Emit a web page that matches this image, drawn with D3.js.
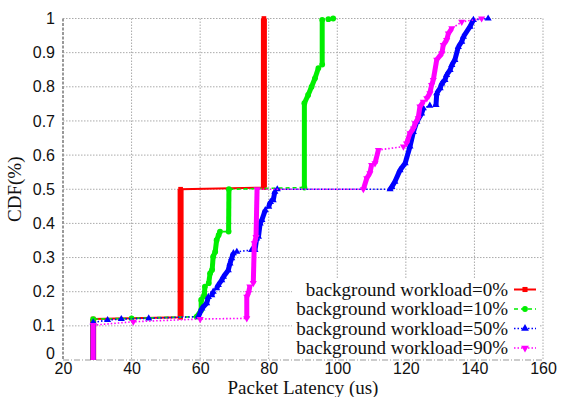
<!DOCTYPE html>
<html>
<head>
<meta charset="utf-8">
<script src="https://cdn.jsdelivr.net/npm/d3@7"></script>
<style>
  body { margin: 0; background: #fff; }
  svg text { fill: #111; }
</style>
</head>
<body>
<div id="chart"></div>
<script>
// CDF of packet latency, one series per background workload

const xTicks = [20, 40, 60, 80, 100, 120, 140, 160];
const yTicks = [0, 0.1, 0.2, 0.3, 0.4, 0.5, 0.6, 0.7, 0.8, 0.9, 1];
const seriesNames = ['background workload=0%', 'background workload=10%',
  'background workload=50%', 'background workload=90%'];

// [latency (us), cdf]
const workload0 = [[28.8,0],[28.8,0.12],[54.3,0.125],[54.3,0.5],[78.6,0.505],[78.6,1.0]];

const workload10 = [[28.8,0],[28.8,0.12],[40,0.122],[59,0.127],[60.3,0.146],[60.3,0.176],
  [61.2,0.19],[61.4,0.215],[62.5,0.225],[62.9,0.254],[63.5,0.264],[63.8,0.303],[64.4,0.317],
  [64.8,0.351],[65.4,0.366],[65.8,0.376],[68.3,0.376],[68.4,0.5],[90.4,0.505],[90.4,0.752],
  [91.5,0.776],[92.5,0.8],[93.5,0.825],[94.5,0.855],[95.6,0.865],[95.6,0.996],[97.4,0.998],[98.8,1.0]];

const workload50 = [[28.8,0],[28.8,0.11],[33,0.117],[37,0.12],[45,0.122],[59.5,0.127],[60.5,0.151],
  [61.9,0.166],[62.4,0.185],[63.4,0.19],[63.8,0.2],[64.8,0.21],[65.3,0.22],[66.3,0.234],[66.8,0.244],
  [68.2,0.263],[68.7,0.283],[69.2,0.298],[69.7,0.313],[70.7,0.317],[75.0,0.322],[76.0,0.322],
  [76.5,0.356],[77,0.361],[77.5,0.4],[78,0.41],[79,0.439],[80,0.449],[80.5,0.463],[81.3,0.468],
  [81.8,0.493],[82.5,0.5],[115.4,0.5],[115.9,0.507],[116.8,0.522],[118.3,0.556],[119.8,0.576],
  [121.2,0.625],[122.2,0.668],[123.2,0.698],[124.6,0.722],[125.1,0.737],[127,0.745],[128.8,0.747],
  [129.0,0.781],[130,0.796],[130.5,0.81],[131.4,0.82],[131.9,0.835],[132.9,0.849],[133.4,0.864],
  [134.3,0.879],[135.3,0.917],[136.3,0.932],[136.8,0.947],[138.7,0.976],[139.7,0.996],[144,1.0]];

const workload90 = [[28.8,0],[28.8,0.102],[40.5,0.112],[60,0.12],[73.6,0.122],[73.6,0.185],
  [74.1,0.196],[74.5,0.215],[75.5,0.225],[75.8,0.342],[76.3,0.36],[76.6,0.5],[107.6,0.5],
  [108.6,0.532],[109.5,0.547],[110,0.571],[111,0.576],[112,0.615],[119.3,0.625],[120.2,0.634],
  [121.2,0.664],[122.2,0.678],[122.7,0.693],[123.6,0.708],[124.1,0.742],[125.1,0.756],[126.1,0.766],
  [127,0.781],[127.5,0.805],[128,0.82],[129,0.879],[130.5,0.898],[130.9,0.922],[131.9,0.937],
  [132.4,0.956],[133.4,0.971],[136.3,0.99],[142.1,1.0]];

const seriesData = [workload0, workload10, workload50, workload90];
const colors = ['#ff0000', '#00ee00', '#0000ff', '#ff00ff'];
const dashes = [null, '4,3', '1.5,2', '1.5,2'];
const symbols = [d3.symbolSquare, d3.symbolCircle, d3.symbolTriangle, d3.symbolTriangle];
const rotations = [0, 0, 0, 180];

const W = 566, H = 397;
const margin = {top: 18.5, right: 23, bottom: 37, left: 63};
const width = W - margin.left - margin.right;
const height = H - margin.top - margin.bottom;

const svg = d3.select('#chart').append('svg')
  .attr('width', W)
  .attr('height', H);

const g = svg.append('g')
  .attr('transform', `translate(${margin.left},${margin.top})`);

const x = d3.scaleLinear().domain([20, 160]).range([0, width]);
const y = d3.scaleLinear().domain([0, 1]).range([height, 0]);

// Grid
g.append('g')
  .selectAll('line')
  .data(xTicks.slice(1))
  .enter().append('line')
  .attr('x1', d => x(d)).attr('x2', d => x(d))
  .attr('y1', 0).attr('y2', height)
  .attr('stroke', '#aaa').attr('stroke-dasharray', '1.5,1.5');

g.append('g')
  .selectAll('line')
  .data(yTicks.slice(1))
  .enter().append('line')
  .attr('x1', 0).attr('x2', width)
  .attr('y1', d => y(d)).attr('y2', d => y(d))
  .attr('stroke', '#aaa').attr('stroke-dasharray', '1.5,1.5');

// Axes (labels only, lines drawn by hand below)
const xAxis = g.append('g')
  .attr('transform', `translate(0,${height})`)
  .call(d3.axisBottom(x).tickValues(xTicks).tickSize(0).tickPadding(3));
xAxis.selectAll('text')
  .style('font-family', '"Liberation Sans", Arial, sans-serif')
  .style('font-size', '16px')
  .style('fill', '#111');

const yAxis = g.append('g')
  .call(d3.axisLeft(y).tickValues(yTicks).tickSize(0).tickPadding(8)
    .tickFormat(d => d === 0 ? '0' : d === 1 ? '1' : d3.format('.1f')(d)));
yAxis.selectAll('text')
  .style('font-family', '"Liberation Sans", Arial, sans-serif')
  .style('font-size', '16px')
  .style('fill', '#111');
yAxis.selectAll('.tick').filter(d => d === 0).select('text').attr('dy', '-0.1em');

svg.selectAll('.domain').remove();

g.append('line')
  .attr('x1', 0).attr('x2', 0).attr('y1', 0).attr('y2', height)
  .attr('stroke', '#999').attr('stroke-width', 2).attr('stroke-dasharray', '3,1.5');
g.append('line')
  .attr('x1', 0).attr('x2', width).attr('y1', height).attr('y2', height)
  .attr('stroke', '#999').attr('stroke-width', 1.2).attr('stroke-dasharray', '6,2,1,2');

// Series
const line = d3.line().x(d => x(d[0])).y(d => y(d[1]));

seriesData.forEach((data, i) => {
  const s = g.append('g');

  // steep parts are dense in samples: markers stack into a thick band
  const steep = d3.pairs(data).filter(([a, b]) =>
    Math.abs(y(b[1]) - y(a[1])) > Math.abs(x(b[0]) - x(a[0])));
  s.selectAll('.band')
    .data(steep)
    .enter().append('path')
    .attr('d', d => line(d))
    .attr('fill', 'none')
    .attr('stroke', colors[i])
    .attr('stroke-width', i === 0 ? 6 : 5);

  s.append('path')
    .datum(data)
    .attr('fill', 'none')
    .attr('stroke', colors[i])
    .attr('stroke-width', i === 0 ? 2 : 1.6)
    .attr('stroke-dasharray', dashes[i])
    .attr('d', line);

  s.selectAll('.pt')
    .data(data.slice(1))
    .enter().append('path')
    .attr('d', d3.symbol().type(symbols[i]).size(i === 1 ? 26 : 22))
    .attr('transform', d => `translate(${x(d[0])},${y(d[1])}) rotate(${rotations[i]})`)
    .attr('fill', colors[i]);
});

// Legend
const legend = g.append('g');
legend.append('rect')
  .attr('x', 229).attr('y', 260)
  .attr('width', 247).attr('height', height - 261)
  .attr('fill', '#fff');

seriesNames.forEach((name, i) => {
  const ly = 271 + i * 19.5;
  legend.append('text')
    .attr('x', 445).attr('y', ly)
    .attr('dy', '0.33em')
    .attr('text-anchor', 'end')
    .style('font-family', '"Liberation Serif", "Times New Roman", serif')
    .style('font-size', '19px')
    .text(name);
  legend.append('line')
    .attr('x1', 451).attr('x2', 473).attr('y1', ly).attr('y2', ly)
    .attr('stroke', colors[i])
    .attr('stroke-width', i === 0 ? 2 : 1.6)
    .attr('stroke-dasharray', dashes[i]);
  legend.append('path')
    .attr('d', d3.symbol().type(symbols[i]).size(26))
    .attr('transform', `translate(462,${ly}) rotate(${rotations[i]})`)
    .attr('fill', colors[i]);
});

// Axis titles
svg.append('text')
  .attr('x', margin.left + width / 2).attr('y', 394)
  .attr('text-anchor', 'middle')
  .style('font-family', '"Liberation Serif", "Times New Roman", serif')
  .style('font-size', '19px')
  .text('Packet Latency (us)');

svg.append('text')
  .attr('transform', `translate(21,${margin.top + height / 2}) rotate(-90)`)
  .attr('text-anchor', 'middle')
  .style('font-family', '"Liberation Serif", "Times New Roman", serif')
  .style('font-size', '19px')
  .text('CDF(%)');
</script>
</body>
</html>
